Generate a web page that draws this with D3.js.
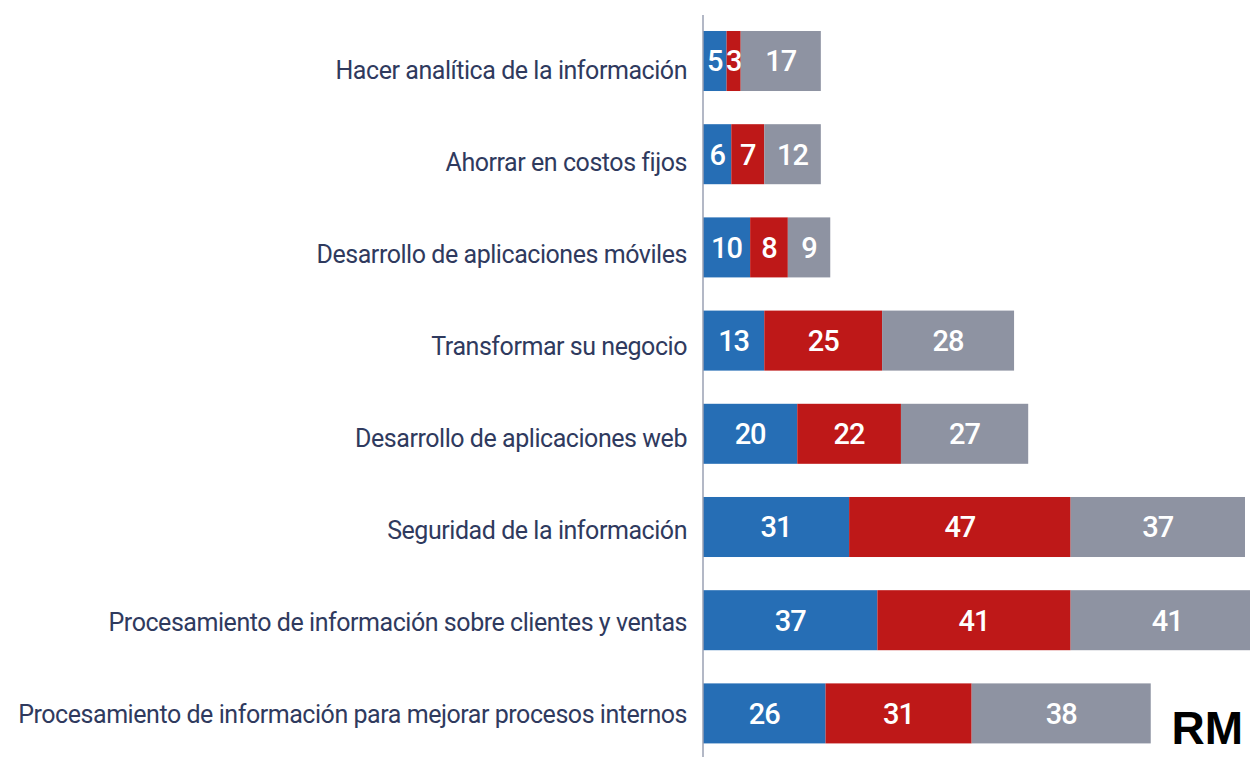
<!DOCTYPE html>
<html>
<head>
<meta charset="utf-8">
<script src="https://cdn.jsdelivr.net/npm/d3@7"></script>
<style>
  body { margin: 0; background: #fff; }
  svg { display: block; }
</style>
</head>
<body>
<svg id="chart" width="1250" height="757"></svg>
<script>
"use strict";

var categories = [
    'Hacer analítica de la información',
    'Ahorrar en costos fijos',
    'Desarrollo de aplicaciones móviles',
    'Transformar su negocio',
    'Desarrollo de aplicaciones web',
    'Seguridad de la información',
    'Procesamiento de información sobre clientes y ventas',
    'Procesamiento de información para mejorar procesos internos'
];
var serieA = [5, 6, 10, 13, 20, 31, 37, 26];
var serieB = [3, 7, 8, 25, 22, 47, 41, 31];
var serieC = [17, 12, 9, 28, 27, 37, 41, 38];
var colors = ['#266eb5', '#be1818', '#8e93a2'];

var svg = d3.select('#chart');
var axisX = 703;

var x = d3.scaleLinear().domain([0, 115]).range([axisX, 1245]);
var y = d3.scaleBand().domain(categories).range([14.4, 760]).paddingInner(0.356).paddingOuter(0.178);
// the labels sit on a slightly tighter grid than the bars
var yLab = d3.scalePoint().domain(categories).range([70, 714]);

var rows = categories.map(function (c, i) {
    var vals = [serieA[i], serieB[i], serieC[i]];
    var acc = 0;
    return vals.map(function (v, k) {
        var seg = { cat: c, k: k, v: v, x0: acc, x1: acc + v };
        acc += v;
        return seg;
    });
});

var segs = svg.append('g').selectAll('g')
    .data(rows).join('g')
    .selectAll('g').data(function (d) { return d; }).join('g');

segs.append('rect')
    .attr('x', function (d) { return x(d.x0); })
    .attr('y', function (d) { return y(d.cat); })
    .attr('width', function (d) { return x(d.x1) - x(d.x0); })
    .attr('height', y.bandwidth())
    .attr('fill', function (d) { return colors[d.k]; });

segs.append('text')
    .attr('x', function (d) { return (x(d.x0) + x(d.x1)) / 2; })
    .attr('y', function (d) { return y(d.cat) + y.bandwidth() / 2; })
    .attr('dy', '0.36em')
    .attr('text-anchor', 'middle')
    .style('font-family', 'Roboto, sans-serif')
    .style('font-size', '29px')
    .style('letter-spacing', '-1px')
    .style('font-weight', 500)
    .style('fill', '#fff')
    .text(function (d) { return d.v; });

// category labels
svg.append('g').selectAll('text')
    .data(categories).join('text')
    .attr('x', 687)
    .attr('y', function (d) { return yLab(d); })
    .attr('dy', '0.36em')
    .attr('text-anchor', 'end')
    .style('font-family', 'Roboto, sans-serif')
    .style('font-size', '25px')
    .style('letter-spacing', '-0.45px')
    .style('fill', '#2f3a5e')
    .text(function (d) { return d; });

// vertical axis line
svg.append('line')
    .attr('x1', axisX).attr('x2', axisX)
    .attr('y1', 15).attr('y2', 757)
    .attr('stroke', '#9aa1b3')
    .attr('stroke-width', 1.5);

svg.append('text')
    .attr('x', 1243).attr('y', 744)
    .attr('text-anchor', 'end')
    .style('font-family', '"Liberation Sans", Arial, sans-serif')
    .style('font-size', '46px')
    .style('font-weight', 'bold')
    .style('fill', '#000')
    .text('RM');
</script>
</body>
</html>
